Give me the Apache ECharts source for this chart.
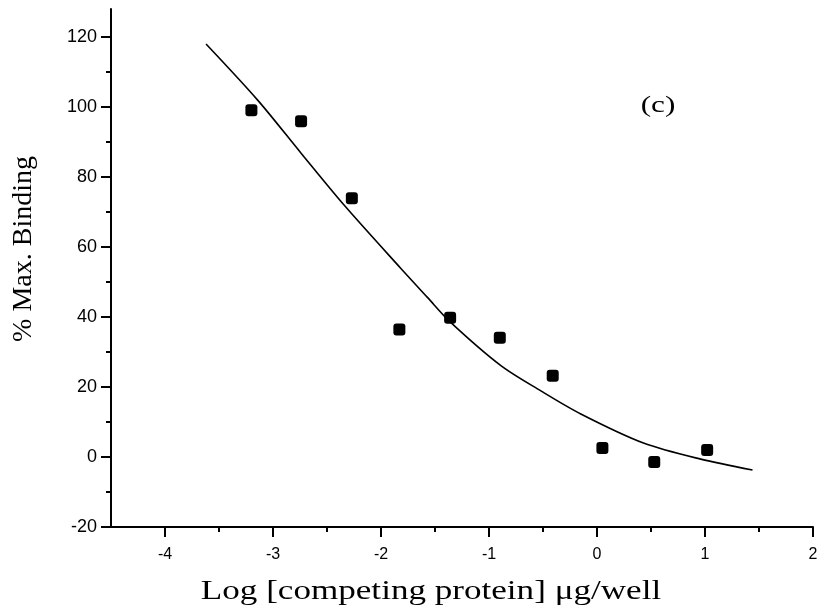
<!DOCTYPE html>
<html>
<head>
<meta charset="utf-8">
<script src="https://cdn.jsdelivr.net/npm/echarts@6/dist/echarts.min.js"></script>
<style>
  html, body { margin: 0; padding: 0; background: #ffffff; }
  #chart { width: 824px; height: 616px; }
</style>
</head>
<body>
<div id="chart"></div>
<script>
// Measured binding (%) against log dose of competing protein
const logDose = [-3.20, -2.74, -2.27, -1.83, -1.36, -0.90, -0.41, 0.05, 0.53, 1.02];
const binding = [99.1, 95.9, 73.9, 36.4, 39.8, 34.1, 23.2, 2.6, -1.4, 2.0];

// Fitted competition curve, sampled along its length
const fitX = [-3.62, -3.14, -2.74, -2.34, -1.82, -1.57, -1.36, -0.89, -0.52, -0.15, 0.43, 0.96, 1.44];
const fitY = [118.0, 101.9, 86.8, 71.9, 54.0, 45.6, 38.6, 26.1, 18.9, 12.3, 4.0, -0.6, -3.7];

// Tick positions
const xMajorTicks = [-4, -3, -2, -1, 0, 1, 2];
const xMinorTicks = [-3.5, -2.5, -1.5, -0.5, 0.5, 1.5];
const yMajorTicks = [-20, 0, 20, 40, 60, 80, 100, 120];
const yMinorTicks = [-10, 10, 30, 50, 70, 90, 110];

const xTitle = 'Log [competing protein] \u03bcg/well';
const yTitle = '% Max. Binding';
const panelTag = '(c)';

const serif = '"Liberation Serif", "Times New Roman", serif';
const sans = '"Liberation Sans", Arial, sans-serif';

const X_MIN = -4.5, X_MAX = 2, Y_MIN = -20, Y_MAX = 128;

const chart = echarts.init(document.getElementById('chart'), null, { renderer: 'canvas' });

const tickStyle = { color: '#000', width: 2 };

chart.setOption({
  backgroundColor: '#ffffff',
  animation: false,
  grid: { left: 111, right: 11, top: 9, bottom: 89, containLabel: false },
  xAxis: [
    {
      type: 'value', min: X_MIN, max: X_MAX, position: 'bottom',
      axisLine: { show: true, onZero: false, lineStyle: { color: '#000', width: 2 } },
      axisTick: { show: true, customValues: xMajorTicks, length: 10, inside: false, lineStyle: tickStyle },
      axisLabel: { show: true, customValues: xMajorTicks, margin: 20, color: '#000', fontSize: 16, fontFamily: sans },
      splitLine: { show: false }
    },
    {
      type: 'value', min: X_MIN, max: X_MAX, position: 'bottom',
      axisLine: { show: false, onZero: false },
      axisTick: { show: true, customValues: xMinorTicks, length: 5, inside: false, lineStyle: tickStyle },
      axisLabel: { show: false },
      splitLine: { show: false }
    }
  ],
  yAxis: [
    {
      type: 'value', min: Y_MIN, max: Y_MAX, position: 'left',
      axisLine: { show: true, onZero: false, lineStyle: { color: '#000', width: 2 } },
      axisTick: { show: true, customValues: yMajorTicks, length: 10, inside: false, lineStyle: tickStyle },
      axisLabel: { show: true, customValues: yMajorTicks, margin: 14, color: '#000', fontSize: 18, fontFamily: sans },
      splitLine: { show: false }
    },
    {
      type: 'value', min: Y_MIN, max: Y_MAX, position: 'left',
      axisLine: { show: false, onZero: false },
      axisTick: { show: true, customValues: yMinorTicks, length: 5, inside: false, lineStyle: tickStyle },
      axisLabel: { show: false },
      splitLine: { show: false }
    }
  ],
  series: [
    {
      type: 'line',
      xAxisIndex: 0, yAxisIndex: 0,
      data: fitX.map((x, i) => [x, fitY[i]]),
      showSymbol: false,
      smooth: 0.3,
      lineStyle: { color: '#000', width: 1.6 },
      z: 2
    },
    {
      type: 'scatter',
      xAxisIndex: 0, yAxisIndex: 0,
      data: logDose.map((x, i) => [x, binding[i]]),
      symbol: 'roundRect',
      symbolSize: 12,
      itemStyle: { color: '#000', opacity: 1 },
      z: 3
    }
  ],
  graphic: [
    {
      type: 'text', x: 431, y: 592, scaleX: 1.3,
      style: { text: xTitle, font: '27px ' + serif, fill: '#000', align: 'center', verticalAlign: 'middle' }
    },
    {
      type: 'text', x: 24, y: 249, rotation: Math.PI / 2,
      style: { text: yTitle, font: '28px ' + serif, fill: '#000', align: 'center', verticalAlign: 'middle' }
    },
    {
      type: 'text', x: 658, y: 106, scaleX: 1.3,
      style: { text: panelTag, font: '24px ' + serif, fill: '#000', align: 'center', verticalAlign: 'middle' }
    }
  ]
});
</script>
</body>
</html>
